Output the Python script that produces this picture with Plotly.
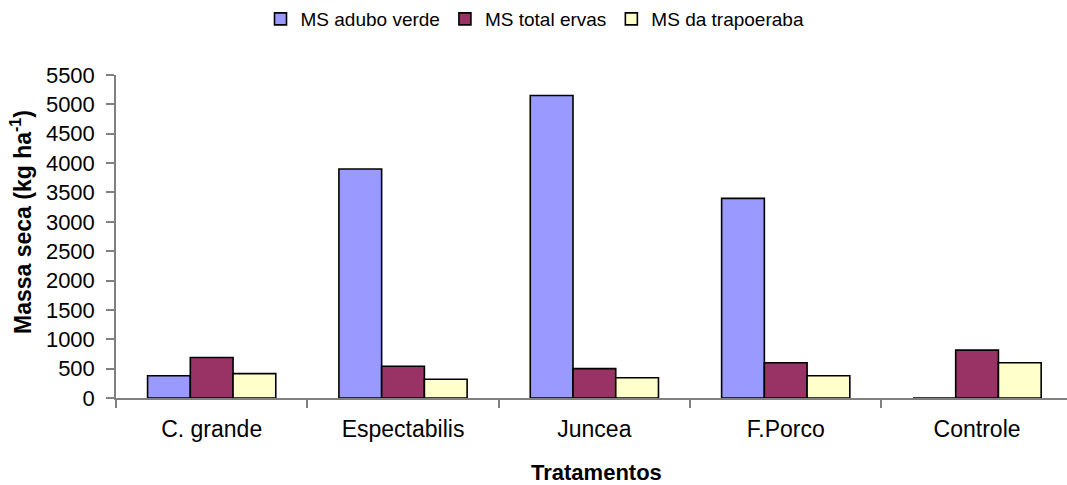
import plotly.graph_objects as go

categories = ["C. grande", "Espectabilis", "Juncea", "F.Porco", "Controle"]
ms_adubo_verde = [380, 3900, 5150, 3400, 0]
ms_total_ervas = [690, 540, 500, 600, 815]
ms_trapoeraba = [415, 320, 345, 380, 600]
y_ticks = list(range(0, 5501, 500))

series = [
    ("MS adubo verde", ms_adubo_verde, "#9999FF"),
    ("MS total ervas", ms_total_ervas, "#993366"),
    ("MS da trapoeraba", ms_trapoeraba, "#FFFFCC"),
]

W, H = 1067, 485
ML, MR, MT, MB = 116, 0, 75, 87

fig = go.Figure()
for name, vals, color in series:
    fig.add_trace(go.Bar(
        x=categories, y=vals, name=name,
        marker=dict(color=color, line=dict(color="black", width=1.6)),
    ))

font_family = "Liberation Sans, Arial, sans-serif"
plot_w = W - ML - MR
plot_h = H - MT - MB

fig.update_layout(
    width=W, height=H,
    paper_bgcolor="white", plot_bgcolor="white",
    barmode="group", bargap=0.33, bargroupgap=0,
    margin=dict(l=ML, r=MR, t=MT, b=MB, autoexpand=False),
    font=dict(family=font_family, color="black", size=20),
    legend=dict(
        orientation="h", x=535 / W, xanchor="center", xref="container",
        y=1.0, yanchor="top", yref="container",
        font=dict(size=19), itemwidth=30, traceorder="normal",
        bgcolor="rgba(0,0,0,0)",
    ),
    xaxis=dict(
        range=[-0.5, 4.47], showline=True, linecolor="#808080", linewidth=1.5,
        ticks="outside", tickson="boundaries", ticklen=8, tickcolor="#808080",
        tickwidth=1.5, tickfont=dict(size=23), showgrid=False, zeroline=False,
        ticklabelstandoff=10, automargin=False,
    ),
    yaxis=dict(
        range=[0, 5500], tickvals=y_ticks, showline=True, linecolor="#808080",
        linewidth=1.5, ticks="outside", ticklen=8, tickcolor="#808080",
        tickwidth=1.5, tickfont=dict(size=22), showgrid=False, zeroline=False,
        ticklabelstandoff=7, automargin=False,
    ),
    annotations=[
        dict(text="<b>Tratamentos</b>", xref="paper", yref="paper",
             x=(596 - ML) / plot_w, y=-(472 - (MT + plot_h)) / plot_h,
             xanchor="center", yanchor="middle", showarrow=False,
             font=dict(size=22)),
        dict(text="<b>Massa seca (kg ha<sup>-1</sup>)</b>", xref="paper", yref="paper",
             x=-(ML - 21) / plot_w, y=(MT + plot_h - 222) / plot_h,
             xanchor="center", yanchor="middle", textangle=-90, showarrow=False,
             font=dict(size=23)),
    ],
)

fig.write_html("out.html", config={"displayModeBar": False},
               post_script="document.body.style.margin='0';")
